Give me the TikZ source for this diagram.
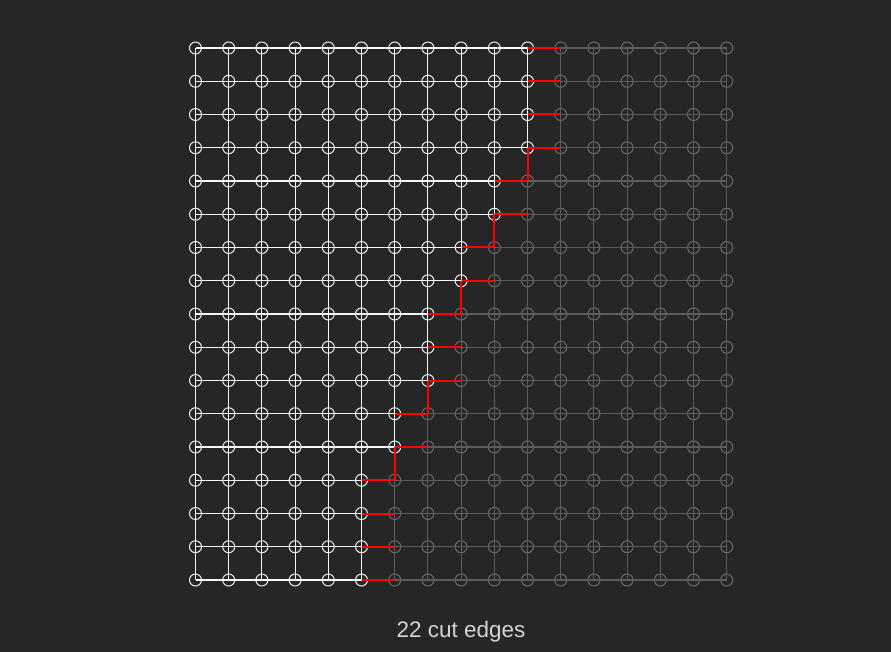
\documentclass[tikz,border=0pt]{standalone}
\usepackage{fontspec}
\setmainfont{Liberation Sans}
\definecolor{canvas}{RGB}{38,38,38}
\definecolor{cutred}{RGB}{255,0,0}
\definecolor{linkout}{RGB}{92,92,92}
\definecolor{caption}{RGB}{212,212,212}
\newcommand{\bound}{{10,10,10,10,9,9,8,8,7,7,7,6,6,5,5,5,5}}

\begin{document}
\begin{tikzpicture}[x=1pt,y=-1pt,
  vin/.style={circle, draw=white!92!canvas, line width=1pt, minimum size=12pt, inner sep=0pt},
  vout/.style={circle, draw=white!32!canvas, line width=1pt, minimum size=12pt, inner sep=0pt},
  linkin/.style={draw=white!96!canvas, line width=1.15pt},
  linkout/.style={draw=linkout, line width=1.15pt},
  cutlink/.style={draw=cutred, line width=2pt}]
\fill[canvas] (0,0) rectangle (891,652);

% vertices
\foreach \r in {0,...,16}{
  \pgfmathtruncatemacro{\lim}{\bound[\r]}
  \foreach \c in {0,...,16}{
    \ifnum\c>\lim\relax \def\vkind{vout}\else \def\vkind{vin}\fi
    \node[\vkind] (v-\c-\r) at ({195.5+33.2*\c},{48+33.25*\r}) {};
  }
}

% horizontal edges
\foreach \r in {0,...,16}{
  \pgfmathtruncatemacro{\lim}{\bound[\r]}
  \foreach \c [count=\n from 1] in {0,...,15}{
    \ifnum\c<\lim\relax \def\tone{linkin}%
    \else\ifnum\c=\lim\relax \def\tone{cutlink}%
    \else \def\tone{linkout}\fi\fi
    \draw[\tone] (v-\c-\r.center) -- (v-\n-\r.center);
  }
}

% vertical edges
\foreach \r [count=\s from 1] in {0,...,15}{
  \pgfmathtruncatemacro{\lim}{\bound[\r]}
  \pgfmathtruncatemacro{\limnext}{\bound[\s]}
  \foreach \c in {0,...,16}{
    \ifnum\c>\lim\relax \def\tone{linkout}%
    \else\ifnum\c>\limnext\relax \def\tone{cutlink}%
    \else \def\tone{linkin}\fi\fi
    \draw[\tone] (v-\c-\r.center) -- (v-\c-\s.center);
  }
}

\node[font=\fontsize{22.5}{27}\selectfont, text=caption] (label) at (461,631.5) {22 cut edges};
\end{tikzpicture}
\end{document}
